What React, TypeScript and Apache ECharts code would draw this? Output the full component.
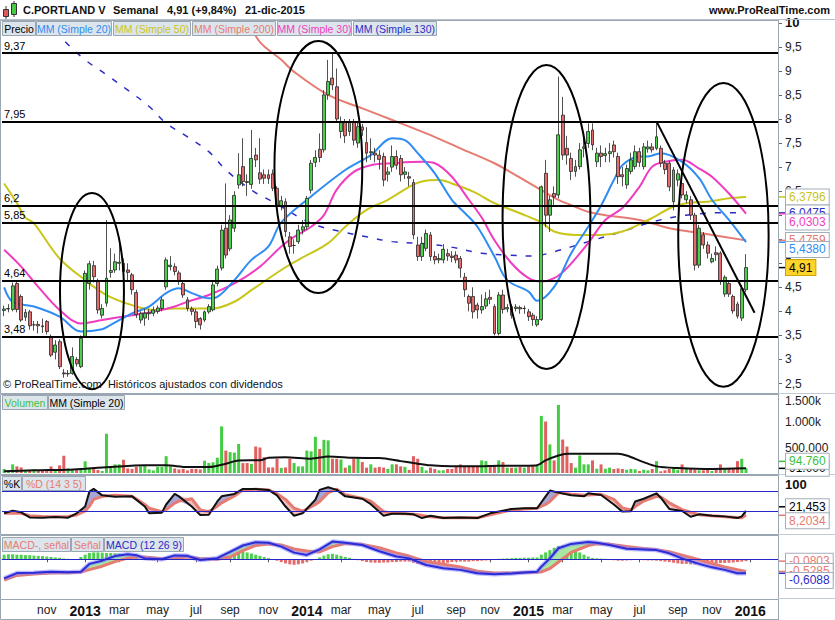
import React, { useEffect, useRef } from "react";
import * as echarts from "echarts";

const FONT = '"Liberation Sans", Arial, Helvetica, sans-serif';
const FIRST_WEEK_UTC = Date.UTC(2012, 7, 20);
const WEEK_SLOTS = 182;
const MONTHS_ES = ["ene", "feb", "mar", "abr", "may", "jun", "jul", "ago", "sep", "oct", "nov", "dic"];

// weekly candles: [open, close, low, high]
const CANDLES: number[][] = [
  [4.02, 4.05, 3.9, 4.12], [4.05, 4.06, 3.98, 4.15], [4.04, 4.53, 4.0, 4.6], [4.58, 4.04, 3.98, 4.62], [4.31, 3.82, 3.78, 4.35],
  [3.88, 3.98, 3.8, 4.05], [3.99, 3.7, 3.62, 4.03], [3.72, 3.72, 3.6, 3.8], [3.73, 3.7, 3.54, 3.8], [3.7, 3.68, 3.55, 3.85],
  [3.79, 3.58, 3.52, 3.82], [3.47, 3.09, 3.05, 3.52], [3.15, 3.3, 3.0, 3.4], [3.37, 2.85, 2.8, 3.42], [2.72, 2.7, 2.62, 2.8],
  [2.7, 2.71, 2.64, 2.78], [2.71, 3.06, 2.68, 3.25], [3.0, 2.91, 2.85, 3.05], [2.85, 3.44, 2.82, 3.5], [3.48, 4.79, 3.45, 4.85],
  [4.58, 4.99, 4.45, 5.05], [4.95, 4.72, 4.6, 5.05], [4.62, 4.03, 3.95, 4.68], [3.92, 4.06, 3.85, 4.15], [4.17, 4.69, 4.1, 5.9],
  [4.81, 4.85, 4.7, 5.31], [4.86, 5.03, 4.8, 5.2], [5.0, 5.02, 4.85, 5.48], [5.0, 4.83, 4.75, 5.1], [4.86, 4.81, 4.65, 5.0],
  [4.76, 4.45, 4.35, 4.8], [4.39, 3.93, 3.86, 4.45], [3.82, 3.96, 3.75, 4.0], [3.86, 3.96, 3.7, 4.05], [3.95, 3.97, 3.82, 4.05],
  [3.96, 4.03, 3.9, 4.1], [4.0, 4.07, 3.95, 4.12], [4.06, 4.24, 4.0, 4.3], [4.51, 5.07, 4.45, 5.12], [4.93, 4.96, 4.85, 5.15],
  [4.93, 4.83, 4.75, 5.0], [4.8, 4.62, 4.55, 4.85], [4.58, 4.34, 4.28, 4.65], [4.24, 4.06, 4.0, 4.3], [4.05, 4.0, 3.92, 4.1],
  [3.99, 3.79, 3.65, 4.05], [3.85, 3.72, 3.62, 3.88], [3.82, 3.99, 3.78, 4.02], [3.99, 4.1, 3.95, 4.15], [4.03, 4.55, 4.0, 4.62],
  [4.58, 4.88, 4.52, 4.95], [4.9, 5.69, 4.85, 5.8], [5.73, 5.17, 5.1, 6.66], [5.3, 5.9, 5.25, 6.0], [5.73, 6.41, 5.65, 6.5],
  [6.63, 6.84, 6.55, 7.29], [7.01, 6.7, 6.6, 7.6], [6.7, 6.68, 6.4, 6.85], [6.64, 7.18, 6.55, 7.77], [7.25, 7.15, 7.0, 7.4],
  [6.88, 6.75, 6.65, 7.6], [6.84, 6.77, 6.65, 6.95], [6.84, 6.76, 6.65, 6.95], [6.86, 6.56, 6.5, 6.95], [6.56, 6.2, 6.1, 6.6],
  [6.2, 6.3, 6.1, 6.4], [6.28, 5.66, 5.55, 6.35], [5.55, 5.35, 5.2, 5.65], [5.37, 5.37, 5.2, 5.5], [5.45, 5.69, 5.4, 5.8],
  [5.69, 5.76, 5.6, 5.9], [5.76, 6.35, 5.7, 6.4], [6.52, 7.08, 6.45, 7.15], [7.1, 7.2, 7.0, 7.35], [7.37, 7.2, 7.1, 7.7],
  [7.36, 8.5, 7.3, 8.6], [8.5, 8.78, 8.4, 9.23], [8.85, 8.71, 8.6, 9.37], [8.67, 8.0, 7.95, 9.05], [7.74, 7.94, 7.6, 8.05],
  [7.94, 7.65, 7.5, 8.0], [7.74, 7.94, 7.65, 8.0], [7.94, 7.56, 7.45, 8.0], [7.5, 7.84, 7.4, 7.95], [7.83, 7.77, 7.65, 7.9],
  [7.51, 7.29, 7.1, 7.83], [7.3, 7.32, 7.15, 7.6], [7.29, 7.25, 7.1, 7.4], [7.25, 7.16, 6.95, 7.35], [7.22, 6.73, 6.6, 7.3],
  [6.85, 6.9, 6.7, 7.0], [7.0, 7.22, 6.9, 7.45], [7.22, 7.04, 6.95, 7.35], [7.18, 6.84, 6.7, 7.25], [6.85, 6.9, 6.75, 7.0],
  [6.8, 6.77, 6.6, 6.9], [6.68, 5.59, 5.5, 6.75], [5.38, 5.14, 5.05, 5.55], [5.14, 5.41, 5.05, 5.55], [5.31, 5.62, 5.25, 5.7],
  [5.59, 5.14, 5.05, 5.65], [5.14, 5.07, 4.98, 5.25], [5.07, 5.1, 5.0, 5.2], [5.07, 5.29, 5.0, 5.4], [5.2, 5.15, 5.05, 5.3],
  [5.15, 5.12, 5.02, 5.25], [5.17, 5.07, 5.0, 5.25], [5.1, 4.9, 4.7, 5.15], [4.71, 4.45, 4.3, 4.8], [4.31, 4.17, 4.0, 4.35],
  [4.31, 3.99, 3.85, 4.5], [4.13, 4.03, 3.85, 4.18], [4.03, 4.1, 3.95, 4.35], [4.11, 4.26, 4.05, 4.4], [4.29, 4.25, 4.15, 4.45],
  [4.1, 3.54, 3.5, 4.15], [3.54, 4.34, 3.5, 4.4], [4.34, 4.04, 3.95, 4.45], [4.05, 4.08, 3.98, 4.15], [4.1, 3.92, 3.85, 4.15],
  [4.06, 4.09, 4.0, 4.15], [4.08, 4.05, 3.95, 4.12], [4.06, 4.06, 3.95, 4.12], [3.99, 3.89, 3.8, 4.05], [3.92, 3.83, 3.7, 3.97],
  [3.72, 3.83, 3.68, 3.9], [3.83, 6.59, 3.8, 6.62], [6.87, 6.0, 5.75, 7.15], [6.0, 6.32, 5.65, 6.4], [6.45, 6.38, 6.2, 6.6],
  [6.42, 7.67, 6.35, 8.88], [8.08, 7.25, 7.15, 8.46], [7.39, 7.25, 7.05, 7.65], [7.18, 6.91, 6.73, 7.3], [6.91, 7.01, 6.8, 7.15],
  [7.01, 7.36, 6.95, 7.5], [7.39, 7.42, 7.2, 7.6], [7.49, 7.74, 7.4, 7.91], [7.77, 7.46, 7.35, 7.91], [7.11, 7.29, 7.0, 7.4],
  [7.29, 7.22, 7.0, 7.45], [7.24, 7.28, 7.1, 7.4], [7.28, 7.32, 7.1, 7.5], [7.46, 7.32, 7.2, 7.55], [7.22, 6.8, 6.65, 7.3],
  [6.84, 6.8, 6.6, 7.0], [6.63, 6.97, 6.55, 7.05], [6.91, 7.15, 6.85, 7.3], [7.01, 7.32, 6.95, 7.45], [7.32, 7.1, 7.0, 7.4],
  [7.01, 7.42, 6.95, 7.5], [7.38, 7.42, 7.3, 7.55], [7.42, 7.36, 7.3, 7.5], [7.39, 7.63, 7.35, 7.95], [7.39, 7.08, 7.0, 7.45],
  [7.08, 6.95, 6.85, 7.15], [7.08, 6.59, 6.5, 7.12], [6.28, 6.94, 6.1, 7.0], [6.73, 6.86, 6.6, 6.95], [6.66, 6.42, 6.35, 6.75],
  [6.32, 6.42, 6.25, 6.5], [6.32, 6.0, 5.9, 6.4], [6.0, 4.96, 4.85, 6.05], [4.96, 5.73, 4.9, 5.8], [5.59, 5.38, 5.3, 5.65],
  [5.38, 5.21, 5.1, 5.45], [5.03, 5.1, 5.0, 5.2], [5.22, 5.18, 5.05, 5.35], [5.21, 4.62, 4.55, 5.25], [4.36, 4.71, 4.3, 4.75],
  [4.58, 4.36, 4.3, 4.62], [4.31, 4.01, 3.95, 4.35], [4.15, 3.9, 3.85, 4.2], [3.86, 4.47, 3.8, 4.55], [4.45, 4.91, 4.4, 5.19],
];

// weekly volume, thousands of shares
const VOLUME_K: number[] = [
  80, 60, 170, 130, 110, 60, 60, 70, 60, 50,
  70, 130, 60, 150, 340, 90, 80, 80, 90, 230,
  90, 80, 60, 40, 770, 130, 170, 170, 260, 90,
  80, 120, 130, 150, 70, 50, 120, 120, 330, 130,
  90, 70, 80, 50, 80, 80, 70, 240, 195, 210,
  300, 915, 440, 410, 400, 570, 195, 195, 180, 520,
  500, 310, 110, 110, 280, 100, 110, 280, 195, 130,
  130, 440, 425, 710, 470, 650, 640, 280, 280, 265,
  105, 150, 280, 280, 215, 105, 170, 105, 120, 105,
  80, 170, 170, 130, 120, 60, 330, 280, 120, 50,
  105, 78, 52, 52, 78, 78, 117, 169, 143, 143,
  130, 117, 247, 233, 130, 130, 247, 214, 105, 105,
  105, 117, 105, 130, 143, 143, 1120, 1010, 560, 247,
  1336, 656, 519, 195, 105, 344, 169, 169, 247, 84,
  169, 84, 105, 78, 91, 78, 65, 78, 72, 39,
  65, 52, 78, 233, 33, 52, 78, 117, 65, 169,
  105, 78, 65, 52, 52, 78, 39, 78, 169, 78,
  78, 78, 233, 280, 94.76,
];
const VOL_MA20_K: number[][] = [
  [0, 33], [7, 52], [15, 65], [19, 84], [25, 117], [33, 150], [38, 150], [43, 117], [48, 117], [52, 182],
  [55, 247], [60, 250], [62, 299], [66, 311], [72, 280], [76, 325], [82, 299], [88, 292], [93, 233], [96, 195],
  [100, 150], [105, 130], [111, 130], [116, 143], [123, 143], [125, 150], [127, 247], [130, 344], [132, 376], [144, 376],
  [146, 344], [150, 214], [153, 130], [158, 97], [166, 78], [174, 91],
];

// moving averages: [week index, value]
const MA20: number[][] = [
  [0, 4.5], [2, 4.2], [7, 4.1], [13, 3.89], [18, 3.58], [23, 3.63], [25, 3.72], [30, 3.96], [34, 4.1], [38, 4.38],
  [41, 4.48], [44, 4.38], [48, 4.27], [50, 4.3], [54, 4.65], [58, 5.07], [62, 5.35], [65, 5.85], [72, 6.39], [80, 6.94],
  [86, 7.25], [91, 7.6], [94, 7.56], [97, 7.29], [101, 6.87], [105, 6.32], [108, 6.05], [111, 5.76], [115, 5.14], [118, 4.65],
  [123, 4.41], [125, 4.22], [129, 4.51], [133, 5.21], [137, 5.76], [140, 6.2], [143, 6.73], [145, 7.04], [149, 7.22], [151, 7.22],
  [154, 7.29], [159, 7.11], [163, 6.77], [166, 6.32], [170, 5.9], [174, 5.438],
];
const MA30: number[][] = [
  [0, 5.28], [4, 4.93], [8, 4.51], [13, 4.03], [18, 3.75], [23, 3.82], [30, 3.92], [35, 3.99], [40, 4.1], [43, 4.2],
  [48, 4.34], [54, 4.58], [60, 4.93], [65, 5.35], [68, 5.55], [72, 5.76], [75, 6.0], [78, 6.53], [82, 6.9], [86, 7.04],
  [91, 7.08], [98, 7.11], [101, 7.08], [105, 6.8], [109, 6.32], [112, 5.95], [115, 5.48], [119, 5.0], [123, 4.69], [126, 4.62],
  [129, 4.69], [132, 4.9], [137, 5.42], [141, 5.9], [145, 6.15], [149, 6.59], [152, 7.01], [155, 7.11], [159, 7.15], [163, 6.97],
  [166, 6.8], [170, 6.45], [174, 6.0303],
];
const MA50: number[][] = [
  [0, 6.66], [3, 6.25], [5, 5.95], [7, 5.83], [13, 5.1], [19, 4.65], [24, 4.34], [30, 4.13], [35, 4.03], [40, 4.06],
  [44, 4.06], [49, 4.06], [54, 4.2], [58, 4.44], [65, 4.86], [69, 5.07], [76, 5.42], [80, 5.76], [85, 6.11], [90, 6.32],
  [95, 6.59], [98, 6.7], [102, 6.73], [105, 6.66], [110, 6.49], [115, 6.25], [121, 6.04], [126, 5.85], [129, 5.66], [134, 5.59],
  [140, 5.59], [145, 5.66], [151, 5.9], [157, 6.18], [160, 6.25], [165, 6.28], [170, 6.35], [174, 6.3796],
];
const MA200: number[][] = [
  [55, 10.25], [57, 10.05], [60, 9.6], [65, 9.23], [68, 8.98], [76, 8.5], [84, 8.22], [91, 7.98], [99, 7.7], [107, 7.39],
  [115, 7.08], [121, 6.78], [126, 6.52], [130, 6.32], [133, 6.21], [137, 6.07], [141, 6.0], [149, 5.9], [156, 5.73], [164, 5.62],
  [174, 5.4759],
];
const MA130: number[][] = [
  [10, 10.1], [14, 9.64], [19, 9.23], [24, 8.92], [29, 8.6], [34, 8.26], [38, 7.91], [43, 7.63], [48, 7.32], [52, 6.94],
  [58, 6.52], [63, 6.28], [72, 5.83], [79, 5.66], [85, 5.55], [91, 5.45], [98, 5.41], [104, 5.35], [112, 5.21], [118, 5.17],
  [124, 5.15], [129, 5.24], [137, 5.45], [145, 5.66], [152, 5.86], [160, 6.0], [168, 6.05], [174, 6.0475],
];

// drawn annotations
const LEVELS = [9.37, 7.95, 6.2, 5.85, 4.64, 3.48];
const TREND_FROM = [153, 7.95];
const TREND_TO = [176, 3.97];
// [centre week, centre price, half width in weeks, half height in price]
const ELLIPSES: number[][] = [
  [20.6, 4.42, 7.5, 2.04],
  [73.7, 7.0, 10.3, 2.62],
  [127.2, 5.96, 10.3, 3.16],
  [168.7, 5.59, 10.6, 3.16],
];

// stochastic %K / %D (14 3 5)
const STOCH_WEEKS = [0, 2, 4, 6, 9, 12, 15, 17, 19, 20, 21, 23, 26, 30, 33, 34, 37, 38, 40, 41, 44, 46, 48, 50, 51, 54, 56, 59, 62, 64, 66, 68, 70, 73, 74, 76, 78, 80, 84, 86, 89, 91, 94, 96, 98, 100, 103, 107, 111, 114, 119, 122, 125, 127, 128, 130, 133, 136, 137, 140, 143, 145, 147, 148, 150, 153, 154, 156, 159, 161, 163, 166, 169, 172, 173, 174];
const STOCH_K = [14, 22, 17, 2, 1, 3, 1, 14, 34, 78, 86, 67, 63, 64, 34, 14, 16, 40, 71, 64, 34, 9, 10, 49, 64, 71, 86, 86, 83, 67, 34, 7, 14, 54, 83, 91, 83, 64, 57, 41, 7, 13, 13, 11, 0, 7, 0, 2, 0, 14, 27, 29, 29, 64, 81, 75, 67, 64, 73, 68, 40, 19, 20, 49, 57, 73, 60, 27, 21, 4, 11, 7, 5, 0, 5, 21.453];
const STOCH_D = [14, 15, 14, 7, 5, 4, 5, 9, 21, 35, 55, 64, 67, 64, 40, 29, 19, 25, 44, 50, 57, 24, 19, 35, 45, 65, 83, 85, 83, 72, 55, 29, 20, 40, 49, 75, 85, 69, 58, 50, 19, 14, 13, 11, 8, 4, 1, 1, 1, 10, 24, 27, 29, 40, 49, 75, 70, 67, 68, 70, 55, 30, 24, 34, 50, 64, 62, 45, 25, 17, 10, 7, 4, 2, 1, 8.2034];
const STOCH_LEVELS = [80, 20];

// MACD (12 26 9)
const MACD_WEEKS = [0, 3, 7, 11, 15, 18, 20, 23, 26, 29, 31, 33, 37, 40, 43, 46, 50, 53, 56, 59, 62, 65, 68, 71, 74, 77, 80, 84, 88, 92, 95, 99, 103, 107, 111, 115, 119, 122, 125, 126, 128, 130, 133, 137, 139, 142, 146, 150, 153, 156, 159, 163, 166, 169, 172, 174];
const MACD_LINE = [-0.83, -0.6, -0.58, -0.54, -0.56, -0.54, -0.2, -0.06, 0.14, 0.22, 0.18, 0.04, 0.0, 0.17, 0.15, -0.03, 0.05, 0.32, 0.6, 0.74, 0.72, 0.55, 0.29, 0.19, 0.43, 0.77, 0.72, 0.62, 0.35, 0.12, 0.04, -0.25, -0.39, -0.46, -0.61, -0.65, -0.62, -0.57, -0.54, -0.32, 0.04, 0.48, 0.67, 0.75, 0.72, 0.62, 0.46, 0.43, 0.4, 0.26, 0.04, -0.2, -0.35, -0.46, -0.61, -0.6088];
const MACD_SIGNAL = [-0.9, -0.7, -0.64, -0.6, -0.58, -0.56, -0.45, -0.3, -0.1, 0.05, 0.1, 0.1, 0.02, 0.06, 0.1, 0.03, 0.0, 0.1, 0.38, 0.6, 0.67, 0.62, 0.45, 0.36, 0.32, 0.55, 0.69, 0.65, 0.5, 0.28, 0.14, -0.1, -0.22, -0.33, -0.52, -0.6, -0.6, -0.57, -0.56, -0.55, -0.4, -0.12, 0.3, 0.6, 0.67, 0.66, 0.56, 0.47, 0.42, 0.33, 0.18, -0.02, -0.18, -0.33, -0.45, -0.5285];
const MACD_HIST = [
  0.2, 0.22, 0.22, 0.2, 0.2, 0.18, 0.18, 0.16, 0.15, 0.14, 0.12, 0.1, 0.08, 0.06, 0.04,
  0.02, 0.0, -0.02,
  0.1, 0.2, 0.28, 0.3, 0.3, 0.29, 0.27, 0.27, 0.26, 0.25, 0.22, 0.2, 0.15, 0.08,
  0.0, -0.03, -0.04, -0.05, -0.04, -0.03, 0.02, 0.04, 0.05, 0.05, 0.04, 0.02, -0.02, -0.04, -0.06, -0.06, -0.05, -0.03,
  0.02, 0.1, 0.2, 0.28, 0.33, 0.35, 0.33, 0.3, 0.25, 0.2, 0.15, 0.1, 0.05,
  -0.02, -0.06, -0.12, -0.18, -0.22, -0.24, -0.22, -0.18, -0.12, -0.06, -0.02,
  0.08, 0.16, 0.22, 0.24, 0.2, 0.15, 0.1, 0.06, 0.02,
  -0.04, -0.08, -0.12, -0.14, -0.15, -0.15, -0.14, -0.14, -0.12, -0.12, -0.1, -0.1, -0.1,
  -0.15, -0.2, -0.25, -0.28, -0.28, -0.26, -0.22, -0.18, -0.15, -0.12, -0.1, -0.1, -0.1, -0.1, -0.08, -0.08, -0.06, -0.05, -0.04,
  0.0, 0.02, 0.03, 0.04, 0.05, 0.06, 0.06, 0.07, 0.07, 0.08, 0.08,
  0.2, 0.3, 0.4, 0.5, 0.58, 0.6, 0.55, 0.48, 0.4, 0.3, 0.2, 0.12, 0.06,
  0.04, 0.03, 0.02, 0.0, -0.04, -0.06, -0.06, -0.05,
  -0.04, -0.03, -0.03, -0.04, -0.05, -0.05, -0.06, -0.08, -0.1, -0.12, -0.15, -0.18, -0.2, -0.2, -0.22, -0.22, -0.22, -0.2, -0.2, -0.18, -0.18, -0.16, -0.16, -0.15, -0.14, -0.12, -0.1, -0.0803,
];

const C_UP = "#4ccf4c";
const C_DOWN = "#e46c6c";
const C_MA20 = "#2f8cf2";
const C_MA50 = "#c9c61a";
const C_MA200 = "#e67b72";
const C_MA30 = "#f03cc0";
const C_MA130 = "#2c2cc6";
const C_SALMON = "#e67b72";
const C_LINEBLUE = "#2626c8";
const C_FRAME = "#9aa6b2";
const LEG_BG = "#dde5ec";

const WEEKS: string[] = Array.from({ length: WEEK_SLOTS }, (_, i) =>
  new Date(FIRST_WEEK_UTC + i * 7 * 86400000).toISOString().slice(0, 10)
);

function monthLabel(dateStr: string): string {
  const t = Date.parse(dateStr + "T00:00:00Z");
  for (let k = 0; k < 7; k++) {
    const d = new Date(t + k * 86400000);
    if (d.getUTCDate() === 1 && d.getUTCMonth() % 2 === 0) {
      return d.getUTCMonth() === 0 ? `{y|${d.getUTCFullYear()}}` : MONTHS_ES[d.getUTCMonth()];
    }
  }
  return "";
}
const showMonth = (idx: number, val: string) => idx > 3 && monthLabel(val) !== "";

const comma = (v: number) => String(v).replace(".", ",");
const fmtVal = (v: number) => (Math.abs(v) >= 10 ? v.toFixed(3) : v.toFixed(4)).replace(".", ",");
const fmtThousands = (v: number) => String(Math.round(v)).replace(/\B(?=(\d{3})+(?!\d))/g, ".");
const last = (a: number[][]) => a[a.length - 1][1];

function fillSeries(weeks: number[], a: number[], b: number[], axis: number, stack: string, upColor: string, downColor: string, extra: any) {
  const base = weeks.map((w, k) => [w, Math.min(a[k], b[k])]);
  const up = weeks.map((w, k) => [w, Math.max(a[k] - b[k], 0)]);
  const dn = weeks.map((w, k) => [w, Math.max(b[k] - a[k], 0)]);
  const common = {
    type: "line", xAxisIndex: axis, yAxisIndex: axis, stack, stackStrategy: "all",
    showSymbol: false, silent: true, lineStyle: { opacity: 0, width: 0 },
  };
  return [
    { ...common, data: base, ...extra },
    { ...common, data: up, areaStyle: { color: upColor, opacity: 1 } },
    { ...common, data: dn, areaStyle: { color: downColor, opacity: 1 } },
  ];
}

function legendRow(y: number, items: { t: string; c: string; x: number; w: number }[]) {
  const out: any[] = [];
  items.forEach((it) => {
    out.push({ type: "rect", z: 100, shape: { x: it.x + 0.5, y: y + 0.5, width: it.w, height: 14 }, style: { fill: LEG_BG, stroke: C_FRAME, lineWidth: 1 } });
    out.push({ type: "text", z: 101, x: it.x + it.w / 2 + 0.5, y: y + 8, style: { text: it.t, fill: it.c, fontSize: 10.5, fontFamily: FONT, align: "center", verticalAlign: "middle" } });
  });
  return out;
}

function valueBoxes(items: { v: number; y: number; text: string; color: string; bg?: string; mark?: string }[], gap: number) {
  const sorted = [...items].sort((a, b) => a.y - b.y);
  const out: any[] = [];
  let prev = -1e9;
  sorted.forEach((it) => {
    const by = Math.max(it.y, prev + gap);
    prev = by;
    out.push({ type: "line", z: 110, shape: { x1: 779, y1: it.y, x2: 785, y2: it.y }, style: { stroke: it.mark || it.color, lineWidth: 1.5 } });
    out.push({
      type: "text", z: 111, x: 786, y: by,
      style: {
        text: it.text, fill: it.color, fontSize: 12, fontFamily: FONT, align: "left", verticalAlign: "middle",
        backgroundColor: it.bg || "#ffffff", borderColor: it.bg ? "#c9a400" : "#a3adb8", borderWidth: 1, padding: [2, 3, 1, 3],
      },
    });
  });
  return out;
}

export default function App() {
  const ref = useRef<HTMLDivElement>(null);

  useEffect(() => {
    const el = ref.current;
    if (!el) return;
    const chart = echarts.init(el, null, { renderer: "svg" });

    const grids = [
      { left: 2, width: 776, top: 22.8, height: 360.7 },
      { left: 2, width: 776, top: 395, height: 78 },
      { left: 2, width: 776, top: 476, height: 57 },
      { left: 2, width: 776, top: 536, height: 62 },
    ];

    const xAxes = grids.map((_, k) => ({
      type: "category", gridIndex: k, data: WEEKS, boundaryGap: true,
      show: k === 3,
      axisLine: { show: k === 3, lineStyle: { color: C_FRAME } },
      axisTick: { show: k === 3, interval: showMonth, alignWithLabel: true, length: 3, lineStyle: { color: "#555" } },
      axisLabel: {
        show: k === 3, interval: showMonth, formatter: (v: string) => monthLabel(v),
        fontSize: 12, color: "#222", margin: 6, fontFamily: FONT,
        rich: { y: { fontSize: 14, fontWeight: "bold", color: "#111", fontFamily: FONT } },
      },
      splitLine: { show: false },
    }));

    const yAxes = [
      {
        type: "value", gridIndex: 0, position: "right", min: 2.5, max: 10, interval: 0.5,
        axisLine: { show: false }, axisTick: { show: true, length: 4, lineStyle: { color: "#666" } },
        splitLine: { show: false },
        axisLabel: {
          fontSize: 12, color: "#222", margin: 7, fontFamily: FONT,
          formatter: (v: number) => (v === 10 ? "{b|10}" : comma(v)),
          rich: { b: { fontSize: 13, fontWeight: "bold", color: "#111", fontFamily: FONT } },
        },
      },
      {
        type: "value", gridIndex: 1, position: "right", min: 0, max: 1530000, interval: 500000,
        axisLine: { show: false }, axisTick: { show: false }, splitLine: { show: false },
        axisLabel: {
          fontSize: 12, color: "#222", margin: 7, fontFamily: FONT,
          formatter: (v: number) => (v === 1500000 ? "{t|1.500k}" : v === 1000000 ? "1.000k" : v === 500000 ? "500.000" : ""),
          rich: { t: { fontSize: 12, padding: [9, 0, 0, 0], fontFamily: FONT, color: "#222" } },
        },
      },
      {
        type: "value", gridIndex: 2, position: "right", min: -44, max: 124, interval: 12,
        axisLine: { show: false }, axisTick: { show: false }, splitLine: { show: false },
        axisLabel: {
          fontSize: 13, color: "#111", margin: 7, fontFamily: FONT,
          formatter: (v: number) => (v === 100 ? "{b|100}" : ""),
          rich: { b: { fontSize: 13, fontWeight: "bold", color: "#111", fontFamily: FONT } },
        },
      },
      { type: "value", gridIndex: 3, min: -1.683, max: 1.013, show: false, splitLine: { show: false } },
    ];

    const maLine = (data: number[][], color: string, width: number, dashed?: boolean) => ({
      type: "line", xAxisIndex: 0, yAxisIndex: 0, data, smooth: 0.35, showSymbol: false, silent: true,
      lineStyle: { color, width, type: dashed ? [6, 9] : "solid" },
    });

    const markLineData: any[] = LEVELS.map((v) => ({ yAxis: v, label: { formatter: comma(v) } }));
    markLineData.push([
      { coord: TREND_FROM, label: { show: false } },
      { coord: TREND_TO, label: { show: false } },
    ]);

    const series: any[] = [
      {
        type: "candlestick", xAxisIndex: 0, yAxisIndex: 0, data: CANDLES, barWidth: 3.4,
        itemStyle: { color: C_UP, color0: C_DOWN, borderColor: "#262626", borderColor0: "#262626", borderWidth: 0.8 },
        markLine: {
          silent: true, symbol: ["none", "none"], animation: false,
          lineStyle: { color: "#000", width: 2, type: "solid" },
          label: { position: "insideStartTop", color: "#000", fontSize: 11, fontFamily: FONT, distance: 2 },
          data: markLineData,
        },
        z: 3,
      },
      maLine(MA200, C_MA200, 2),
      maLine(MA130, C_MA130, 1.5, true),
      maLine(MA50, C_MA50, 2),
      maLine(MA30, C_MA30, 2),
      maLine(MA20, C_MA20, 2),
      {
        type: "bar", xAxisIndex: 1, yAxisIndex: 1, barWidth: 3, silent: true,
        data: VOLUME_K.map((v, i) => ({ value: v * 1000, itemStyle: { color: CANDLES[i][1] >= CANDLES[i][0] ? "#44cc44" : "#e06060" } })),
      },
      {
        type: "line", xAxisIndex: 1, yAxisIndex: 1, data: VOL_MA20_K.map(([w, v]) => [w, v * 1000]),
        smooth: 0.3, showSymbol: false, silent: true, lineStyle: { color: "#111", width: 2 },
      },
      ...fillSeries(STOCH_WEEKS, STOCH_K, STOCH_D, 2, "stoch", "#a6a6d6", "#f4c0c0", {
        markLine: {
          silent: true, symbol: ["none", "none"], label: { show: false },
          lineStyle: { color: C_LINEBLUE, width: 1, type: "solid" },
          data: STOCH_LEVELS.map((v) => ({ yAxis: v })),
        },
      }),
      {
        type: "line", xAxisIndex: 2, yAxisIndex: 2, data: STOCH_WEEKS.map((w, k) => [w, STOCH_D[k]]),
        showSymbol: false, silent: true, lineStyle: { color: C_SALMON, width: 3 },
      },
      {
        type: "line", xAxisIndex: 2, yAxisIndex: 2, data: STOCH_WEEKS.map((w, k) => [w, STOCH_K[k]]),
        showSymbol: false, silent: true, lineStyle: { color: "#111", width: 2 },
      },
      {
        type: "bar", xAxisIndex: 3, yAxisIndex: 3, barWidth: 3, silent: true,
        data: MACD_HIST.map((v) => ({ value: v, itemStyle: { color: v >= 0 ? "#4fcf4f" : "#e46c6c" } })),
      },
      ...fillSeries(MACD_WEEKS, MACD_LINE, MACD_SIGNAL, 3, "macd", "#a9e8a2", "#f2baba", {
        markLine: {
          silent: true, symbol: ["none", "none"], label: { show: false },
          lineStyle: { color: C_LINEBLUE, width: 1, type: "solid" },
          data: [{ yAxis: 0 }],
        },
      }),
      {
        type: "line", xAxisIndex: 3, yAxisIndex: 3, data: MACD_WEEKS.map((w, k) => [w, MACD_SIGNAL[k]]),
        showSymbol: false, silent: true, lineStyle: { color: C_SALMON, width: 3 },
      },
      {
        type: "line", xAxisIndex: 3, yAxisIndex: 3, data: MACD_WEEKS.map((w, k) => [w, MACD_LINE[k]]),
        showSymbol: false, silent: true, lineStyle: { color: "rgba(130,130,255,0.55)", width: 4.5 },
      },
      {
        type: "line", xAxisIndex: 3, yAxisIndex: 3, data: MACD_WEEKS.map((w, k) => [w, MACD_LINE[k]]),
        showSymbol: false, silent: true, lineStyle: { color: "#2b2bd8", width: 2 },
      },
    ];

    chart.setOption({
      animation: false,
      backgroundColor: "#ffffff",
      textStyle: { fontFamily: FONT },
      grid: grids,
      xAxis: xAxes,
      yAxis: yAxes,
      series,
    });

    // pixel helpers through the chart's own scales
    const xA = chart.convertToPixel({ xAxisIndex: 0 }, WEEKS[0]) as number;
    const xB = chart.convertToPixel({ xAxisIndex: 0 }, WEEKS[100]) as number;
    const ppw = (xB - xA) / 100;
    const yPx = (g: number, v: number) => chart.convertToPixel({ yAxisIndex: g }, v) as number;

    const g: any[] = [];
    // panel frames
    [[20, 373], [394, 80], [475, 59], [535, 64], [599, 20]].forEach(([y, h]) => {
      g.push({ type: "rect", z: 90, shape: { x: 0.5, y: y + 0.5, width: 778, height: h }, style: { fill: "none", stroke: C_FRAME, lineWidth: 1 } });
    });
    g.push({ type: "line", z: 90, shape: { x1: 0, y1: 19.5, x2: 835, y2: 19.5 }, style: { stroke: "#b7c0c8", lineWidth: 1 } });
    g.push({ type: "line", z: 90, shape: { x1: 778.5, y1: 20, x2: 778.5, y2: 620 }, style: { stroke: C_FRAME, lineWidth: 1 } });
    [393.5, 474.5, 534.5, 598.5].forEach((y) => {
      g.push({ type: "line", z: 90, shape: { x1: 778, y1: y, x2: 835, y2: y }, style: { stroke: "#c3cad1", lineWidth: 1 } });
    });

    // title
    g.push({ type: "line", z: 100, shape: { x1: 6, y1: 6, x2: 6, y2: 19 }, style: { stroke: "#333", lineWidth: 1 } });
    g.push({ type: "rect", z: 101, shape: { x: 3.5, y: 9.5, width: 5, height: 7 }, style: { fill: "#e05a5a", stroke: "#333", lineWidth: 1 } });
    g.push({ type: "line", z: 100, shape: { x1: 14, y1: 1, x2: 14, y2: 17 }, style: { stroke: "#333", lineWidth: 1 } });
    g.push({ type: "rect", z: 101, shape: { x: 11.5, y: 3.5, width: 5, height: 11 }, style: { fill: "#44cc44", stroke: "#333", lineWidth: 1 } });
    const titleParts: [string, number][] = [["C.PORTLAND V", 23], ["Semanal", 113], ["4,91 (+9,84%)", 167], ["21-dic-2015", 245]];
    titleParts.forEach(([t, x]) => {
      g.push({ type: "text", z: 100, x, y: 10, style: { text: t, fill: "#111", fontSize: 11, fontWeight: "bold", fontFamily: FONT, align: "left", verticalAlign: "middle" } });
    });
    g.push({ type: "text", z: 100, x: 830, y: 10, style: { text: "www.ProRealTime.com", fill: "#111", fontSize: 11, fontWeight: "bold", fontFamily: FONT, align: "right", verticalAlign: "middle" } });

    // legends
    g.push(...legendRow(21, [
      { t: "Precio", c: "#000", x: 2, w: 33 },
      { t: "MM (Simple 20)", c: C_MA20, x: 36, w: 75 },
      { t: "MM (Simple 50)", c: C_MA50, x: 113, w: 77 },
      { t: "MM (Simple 200)", c: C_MA200, x: 192, w: 83 },
      { t: "MM (Simple 30)", c: C_MA30, x: 277, w: 74 },
      { t: "MM (Simple 130)", c: C_MA130, x: 353, w: 83 },
    ]));
    g.push(...legendRow(395, [
      { t: "Volumen", c: "#3cbf3c", x: 2, w: 45 },
      { t: "MM (Simple 20)", c: "#000", x: 48, w: 76 },
    ]));
    g.push(...legendRow(476, [
      { t: "%K", c: "#000", x: 2, w: 19 },
      { t: "%D (14 3 5)", c: C_SALMON, x: 22, w: 63 },
    ]));
    g.push(...legendRow(537, [
      { t: "MACD-, señal", c: C_SALMON, x: 2, w: 68 },
      { t: "Señal", c: C_SALMON, x: 71, w: 32 },
      { t: "MACD (12 26 9)", c: C_MA130, x: 104, w: 79 },
    ]));

    g.push({ type: "text", z: 100, x: 3, y: 384, style: { text: "© ProRealTime.com\u00a0 Históricos ajustados con dividendos", fill: "#111", fontSize: 11, fontFamily: FONT, align: "left", verticalAlign: "middle" } });

    // ellipses
    ELLIPSES.forEach(([ci, cp, hw, hh]) => {
      const cy = yPx(0, cp);
      const ry = Math.abs(yPx(0, cp + hh) - cy);
      g.push({ type: "ellipse", z: 60, silent: true, shape: { cx: xA + ci * ppw, cy, rx: hw * ppw, ry }, style: { fill: "none", stroke: "#000", lineWidth: 2 } });
    });

    // value boxes on the right
    const lastClose = CANDLES[CANDLES.length - 1][1];
    g.push(...valueBoxes([
      { v: last(MA50), y: yPx(0, last(MA50)), text: fmtVal(last(MA50)), color: C_MA50 },
      { v: last(MA130), y: yPx(0, last(MA130)), text: fmtVal(last(MA130)), color: C_MA130 },
      { v: last(MA30), y: yPx(0, last(MA30)), text: fmtVal(last(MA30)), color: C_MA30 },
      { v: last(MA200), y: yPx(0, last(MA200)), text: fmtVal(last(MA200)), color: C_MA200 },
      { v: last(MA20), y: yPx(0, last(MA20)), text: fmtVal(last(MA20)), color: C_MA20 },
      { v: lastClose, y: yPx(0, lastClose), text: lastClose.toFixed(2).replace(".", ","), color: "#000", bg: "#ffd42a", mark: "#000" },
    ], 9));

    const volMaLast = last(VOL_MA20_K) * 1000;
    const volLast = VOLUME_K[VOLUME_K.length - 1] * 1000;
    const yVolMa = yPx(1, volMaLast);
    g.push(...valueBoxes([{ v: volMaLast, y: yVolMa, text: fmtThousands(volMaLast), color: "#000" }], 9));
    g.push(...valueBoxes([{ v: volLast, y: yVolMa - 7, text: fmtThousands(volLast), color: "#3cbf3c", mark: "#3cbf3c" }], 9));

    const kLast = STOCH_K[STOCH_K.length - 1];
    const dLast = STOCH_D[STOCH_D.length - 1];
    g.push(...valueBoxes([
      { v: kLast, y: yPx(2, kLast) - 4, text: fmtVal(kLast), color: "#000" },
      { v: dLast, y: yPx(2, dLast), text: fmtVal(dLast), color: C_SALMON },
    ], 14));

    const hLast = MACD_HIST[MACD_HIST.length - 1];
    const sLast = MACD_SIGNAL[MACD_SIGNAL.length - 1];
    const mLast = MACD_LINE[MACD_LINE.length - 1];
    g.push(...valueBoxes([
      { v: hLast, y: yPx(3, hLast), text: fmtVal(hLast), color: C_SALMON },
      { v: sLast, y: yPx(3, sLast), text: fmtVal(sLast), color: C_SALMON },
      { v: mLast, y: yPx(3, mLast), text: fmtVal(mLast), color: C_MA130 },
    ], 9));

    chart.setOption({ graphic: { elements: g } });

    return () => chart.dispose();
  }, []);

  return <div ref={ref} style={{ position: "fixed", left: 0, top: 0, width: 835, height: 620, background: "#fff" }} />;
}
